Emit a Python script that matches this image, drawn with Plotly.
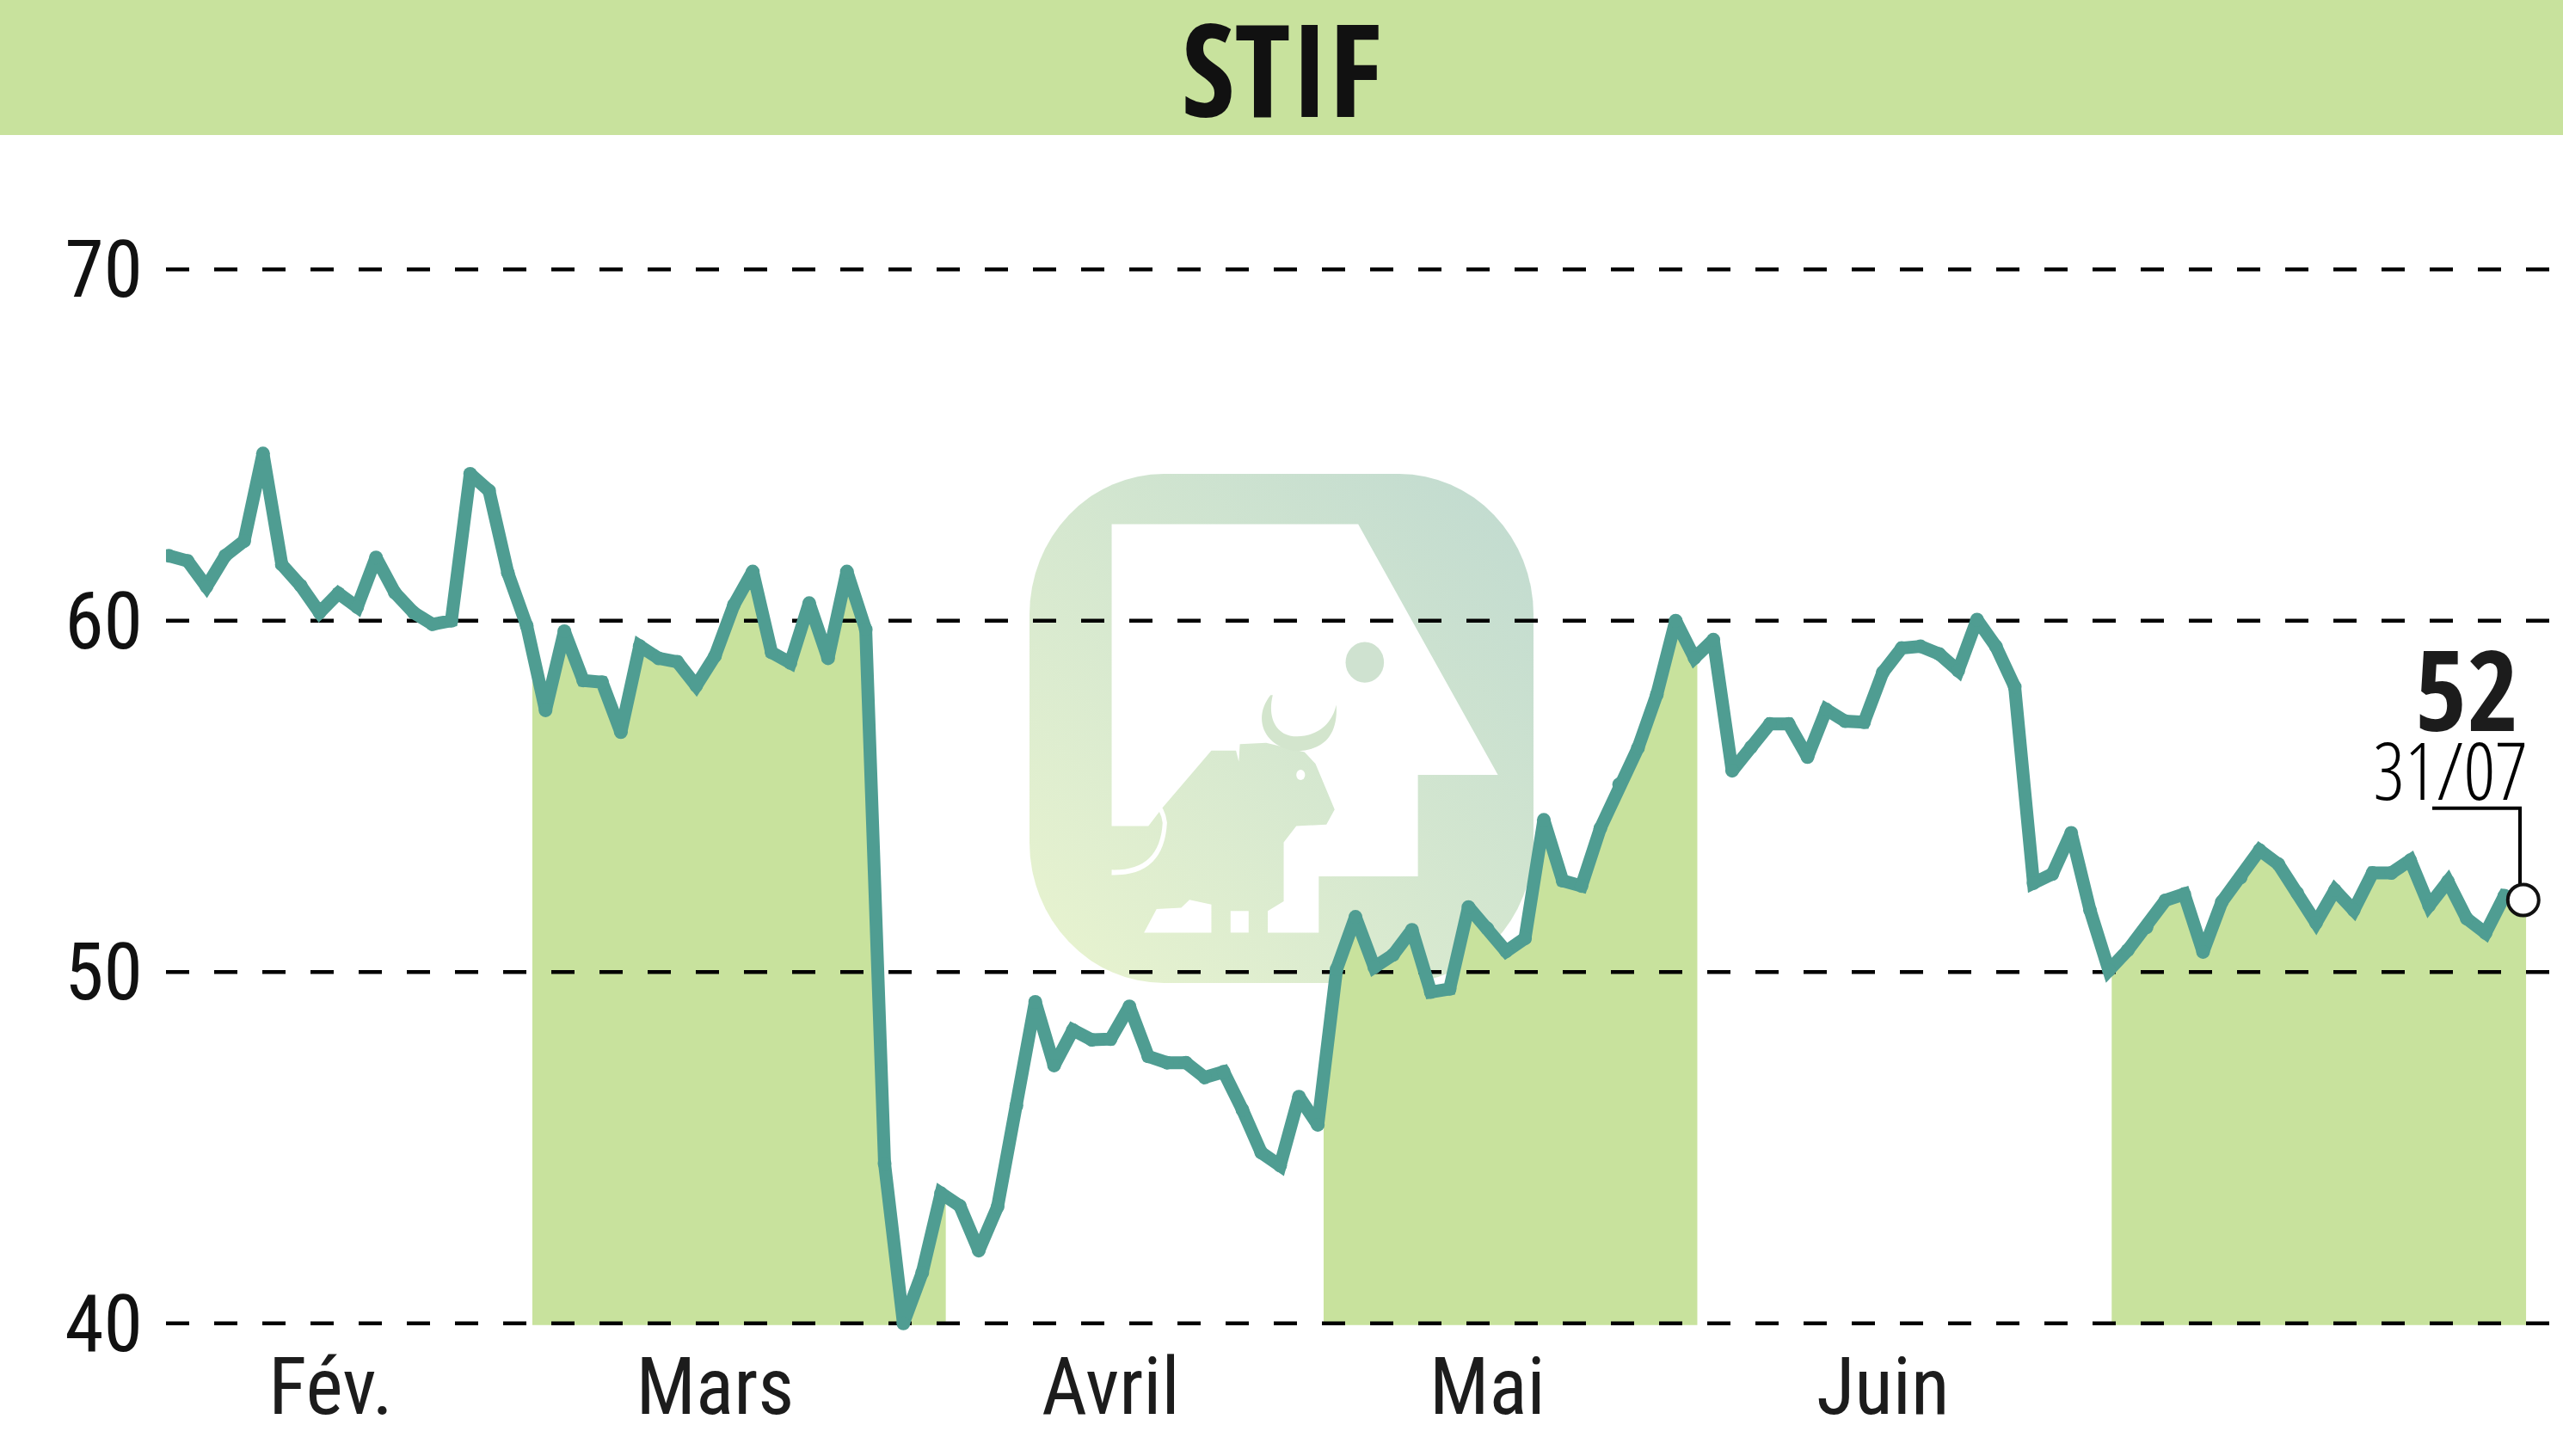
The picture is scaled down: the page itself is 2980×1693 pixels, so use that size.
import base64
import numpy as np
import plotly.graph_objects as go

title = "STIF"
months = ["Fév.", "Mars", "Avril", "Mai", "Juin"]
month_pos = [8.6, 29, 50, 70, 91]
y_ticks = [40, 50, 60, 70]
last_value = "52"
last_date = "31/07"
prices = [
    61.85, 61.7, 60.97, 61.85, 62.27, 64.76, 61.6, 61.0, 60.23, 60.78,
    60.39, 61.8, 60.8, 60.23, 59.9, 60.0, 64.18, 63.7, 61.36, 59.86,
    57.45, 59.7, 58.3, 58.25, 56.83, 59.28, 58.93, 58.83, 58.15, 59.0,
    60.45, 61.4, 59.1, 58.8, 60.5, 58.93, 61.4, 59.75, 44.55, 40.0,
    41.44, 43.7, 43.34, 42.07, 43.32, 46.2, 49.15, 47.34, 48.35, 48.07,
    48.09, 49.02, 47.6, 47.42, 47.42, 47.0, 47.16, 46.08, 44.86, 44.49,
    46.45, 45.65, 50.08, 51.57, 50.14, 50.49, 51.2, 49.43, 49.52, 51.85,
    51.24, 50.59, 50.96, 54.33, 52.6, 52.45, 54.09, 55.34, 56.38, 57.9,
    60.0, 58.94, 59.46, 55.73, 56.4, 57.06, 57.06, 56.12, 57.47, 57.14,
    57.11, 58.53, 59.22, 59.27, 59.05, 58.58, 60.03, 59.27, 58.12, 52.53,
    52.79, 53.96, 51.76, 50.05, 50.62, 51.27, 52.04, 52.22, 50.57, 52.0,
    52.69, 53.47, 53.07, 52.25, 51.4, 52.33, 51.76, 52.82, 52.82, 53.18,
    51.89, 52.58, 51.52, 51.11, 52.17, 52.05,
]
bands = [(19.3, 41.25), (61.31, 81.15), (103.15, 125.15)]

W, H = 2980, 1693
L, T, B = 193, 157, 142
X0 = -0.15
XMAX = X0 + (W - L) / 21.9
YMIN, YMAX = 39.7, 73.825
FILL = "#c8e29d"
LINE = "#4f9d92"
TXT = "#1c1c1c"
LABEL = "Roboto Condensed, sans-serif"
BOLD = "Open Sans Condensed, sans-serif"
LIGHT = "Open Sans Condensed Light, sans-serif"

def px_x(p):
    return X0 + (p - L) / 21.9

def px_y(p):
    return 40 + (1539 - p) / 40.85

xs = np.arange(len(prices))
fig = go.Figure()

# month bands, filled under the curve
for a, b in bands:
    inner = [i for i in xs if a < i < b]
    bx = [a] + inner + [b]
    by = list(np.interp(bx, xs, prices))
    fig.add_trace(go.Scatter(
        x=[a] + bx + [b, a], y=[39.95] + by + [39.95, 39.95],
        mode="lines", line=dict(width=0), fill="toself", fillcolor=FILL,
        hoverinfo="skip", showlegend=False))

# dashed grid
gx, gy = [], []
for t in y_ticks:
    gx += [X0, XMAX, None]
    gy += [t, t, None]
fig.add_trace(go.Scatter(
    x=gx, y=gy, mode="lines",
    line=dict(color="#000000", width=4.5, dash="27px,29px"),
    hoverinfo="skip", showlegend=False))

# price curve
fig.add_trace(go.Scatter(
    x=xs, y=prices, mode="lines+markers",
    line=dict(color=LINE, width=15),
    marker=dict(color=LINE, size=16),
    showlegend=False))

# leader to the last point
fig.add_trace(go.Scatter(
    x=[px_x(2828), px_x(2930), px_x(2930)], y=[px_y(940), px_y(940), px_y(1029)], mode="lines",
    line=dict(color="#000000", width=4), hoverinfo="skip", showlegend=False))
fig.add_trace(go.Scatter(
    x=[xs[-1]], y=[prices[-1]], mode="markers",
    marker=dict(color="#ffffff", size=36, line=dict(color="#111111", width=4)),
    showlegend=False))

# watermark logo (decorative)
svg = """<svg xmlns='http://www.w3.org/2000/svg' width='585' height='592' viewBox='308 67 920 778' preserveAspectRatio='none'>
<defs><linearGradient id='g' x1='0' y1='1' x2='1' y2='0'>
<stop offset='0' stop-color='#e9f4cf'/><stop offset='1' stop-color='#c0dad0'/></linearGradient></defs>
<rect x='308' y='67' width='920' height='778' rx='245' ry='215' fill='url(#g)'/>
<path fill='#fff' d='M458 144H908L1163 527H1017V682H836V768H743V735L772 720V630L795 605L850 603L865 580L830 510L810 492L740 478L692 480L690 507L685 490L640 490L550 578L525 605H458Z'/>
<path fill='#fff' d='M517 768L540 732L585 730L600 718L640 725V768Z'/><rect x='675' y='735' width='33' height='33' fill='#fff'/>
<path fill='#d3e5cd' d='M748 405C715 440 735 482 790 490C840 492 872 470 868 420C858 458 820 470 790 468C758 465 742 440 752 405Z'/>
<ellipse cx='920' cy='355' rx='35' ry='31' fill='#cfe2d0'/><circle cx='803' cy='527' r='8' fill='#fff'/>
<path fill='none' stroke='#fff' stroke-width='8' d='M458 676Q550 678 555 600Q550 560 482 545'/>
</svg>"""
logo = "data:image/svg+xml;base64," + base64.b64encode(svg.encode()).decode()
fig.add_layout_image(dict(
    source=logo, xref="paper", yref="paper",
    x=(1197 - L) / (W - L), y=1 - (551 - T) / (H - T - B),
    sizex=586 / (W - L), sizey=592 / (H - T - B),
    xanchor="left", yanchor="top", sizing="stretch", layer="below"))

fig.update_layout(
    width=W, height=H, autosize=False,
    margin=dict(l=L, r=0, t=T, b=B, pad=0),
    paper_bgcolor="#ffffff", plot_bgcolor="rgba(0,0,0,0)",
    hovermode=False,
    title=dict(text=title, x=0.5, xref="container", xanchor="center",
               y=1 - 83 / H, yref="container", yanchor="middle",
               font=dict(family=BOLD, size=150, color="#111111")),
    xaxis=dict(range=[X0, XMAX], showgrid=False, zeroline=False, showline=False,
               tickmode="array", tickvals=month_pos, ticktext=months, ticks="",
               ticklabelstandoff=0,
               tickfont=dict(family=LABEL, size=92, color=TXT)),
    yaxis=dict(range=[YMIN, YMAX], showgrid=False, zeroline=False, showline=False,
               tickmode="array", tickvals=y_ticks, ticks="",
               ticklabelstandoff=26,
               tickfont=dict(family=LABEL, size=92, color="#111111")),
    shapes=[dict(type="rect", xref="paper", yref="paper", layer="below",
                 x0=-L / (W - L), x1=1, y0=1, y1=1 + T / (H - T - B),
                 fillcolor=FILL, line=dict(width=0))],
    annotations=[
        dict(text=last_value, x=px_x(2930), y=px_y(800),
             xref="x", yref="y", xanchor="right", yanchor="middle", showarrow=False,
             font=dict(family=BOLD, size=130, color=TXT)),
        dict(text=last_date, x=px_x(2940), y=px_y(895),
             xref="x", yref="y", xanchor="right", yanchor="middle", showarrow=False,
             font=dict(family=LIGHT, size=92, color="#000000")),
    ],
)

fig.write_html("out.html", config={"displayModeBar": False},
               post_script="document.body.style.margin='0';")
